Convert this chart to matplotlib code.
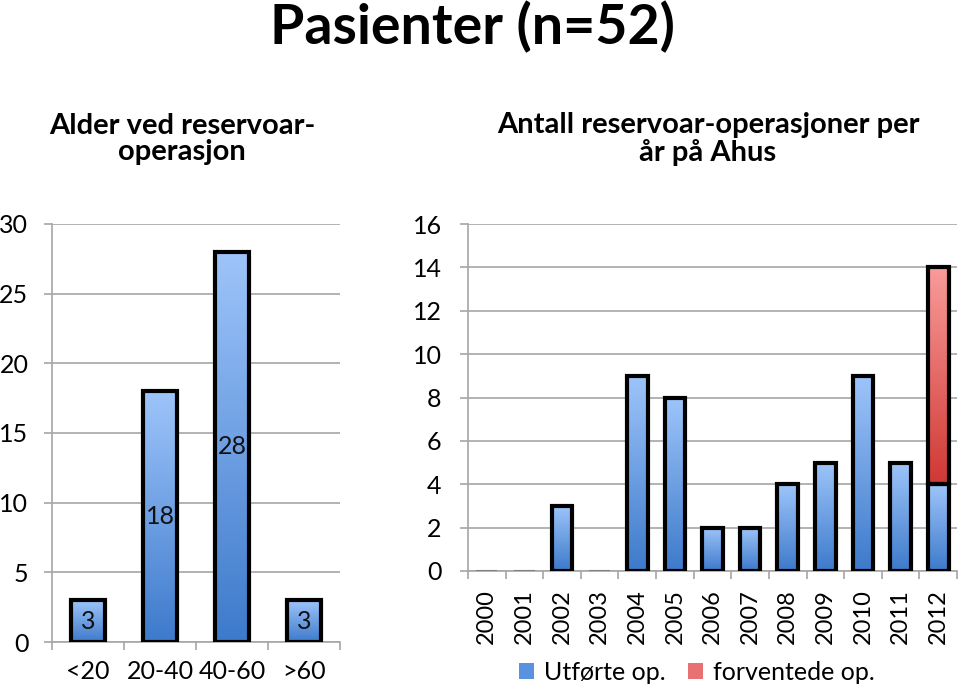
import numpy as np
import matplotlib
matplotlib.use("Agg")
import matplotlib.pyplot as plt
from matplotlib.colors import LinearSegmentedColormap
from matplotlib.patches import Patch

plt.rcParams['font.family'] = ['Lato', 'DejaVu Sans']

# ---- data ----
age_groups = ["<20", "20-40", "40-60", ">60"]
age_counts = [3, 18, 28, 3]

years = ["2000", "2001", "2002", "2003", "2004", "2005", "2006",
         "2007", "2008", "2009", "2010", "2011", "2012"]
done_ops = [0, 0, 3, 0, 9, 8, 2, 2, 4, 5, 9, 5, 4]
expected_ops = [0, 0, 0, 0, 0, 0, 0, 0, 0, 0, 0, 0, 10]

title = "Pasienter (n=52)"
sub_left = "Alder ved reservoar-\noperasjon"
sub_right = "Antall reservoar-operasjoner per\når på Ahus"

BLUE_TOP, BLUE_BOT = "#9EC5FA", "#3D7ACB"
RED_TOP, RED_BOT = "#F99C9A", "#D03834"
GRID = "#A6A6A6"
FS = 18

fig = plt.figure(figsize=(9.6, 6.86), dpi=100)
axL = fig.add_axes([52/960, 44/686, 288/960, 418/686])
axR = fig.add_axes([468/960, 115/686, 489/960, 347/686])


def grad_fill(ax, bars, ctop, cbot):
    cmap = LinearSegmentedColormap.from_list("g", [cbot, ctop])
    xl, yl = ax.get_xlim(), ax.get_ylim()
    for r in bars:
        x, y = r.get_x(), r.get_y()
        w, h = r.get_width(), r.get_height()
        if h <= 0:
            continue
        img = np.linspace(0, 1, 256).reshape(-1, 1)
        im = ax.imshow(img, extent=[x, x + w, y, y + h], origin="lower",
                       cmap=cmap, aspect="auto", zorder=r.get_zorder() - 0.1,
                       interpolation="bilinear")
        im.set_clip_path(r)
        r.set_facecolor("none")
    ax.set_xlim(xl)
    ax.set_ylim(yl)


def style_axis(ax, n, ymax, ystep):
    ax.set_xlim(-0.5, n - 0.5)
    ax.set_ylim(0, ymax)
    ax.set_yticks(np.arange(0, ymax + 0.1, ystep))
    ax.yaxis.grid(True, color=GRID, lw=1.2)
    ax.set_axisbelow(True)
    for s in ["top", "right"]:
        ax.spines[s].set_visible(False)
    for s in ["left", "bottom"]:
        ax.spines[s].set_color(GRID)
        ax.spines[s].set_linewidth(1.2)
    ax.set_xticks(np.arange(n))
    ax.set_xticks(np.arange(-0.5, n, 1.0), minor=True)
    ax.tick_params(axis="x", which="major", length=0, labelsize=FS)
    ax.tick_params(axis="x", which="minor", length=6, color=GRID, width=1.2)
    ax.tick_params(axis="y", length=6, color=GRID, width=1.2, labelsize=FS)


# ---- left chart ----
style_axis(axL, len(age_groups), 30, 5)
xl = np.arange(len(age_groups))
barsL = axL.bar(xl, age_counts, width=0.48, edgecolor="black", linewidth=3,
                zorder=3)
grad_fill(axL, barsL, BLUE_TOP, BLUE_BOT)
axL.set_xticklabels(age_groups)
axL.tick_params(axis="x", which="major", pad=13)
axL.tick_params(axis="y", pad=11)
for x, v in zip(xl, age_counts):
    axL.text(x, v / 2, str(v), ha="center", va="center", fontsize=FS,
             color="#111111", zorder=5)

# ---- right chart ----
style_axis(axR, len(years), 16, 2)
xr = np.arange(len(years))
barsB = axR.bar(xr, done_ops, width=0.55,
                edgecolor=["#808080" if v == 0 else "black" for v in done_ops],
                linewidth=[1.5 if v == 0 else 3 for v in done_ops], zorder=3)
grad_fill(axR, barsB, BLUE_TOP, BLUE_BOT)
barsRd = axR.bar(xr, expected_ops, width=0.55, bottom=done_ops,
                 edgecolor="black", linewidth=3, zorder=3)
for r, v in zip(barsRd, expected_ops):
    if v == 0:
        r.set_visible(False)
grad_fill(axR, [r for r, v in zip(barsRd, expected_ops) if v > 0], RED_TOP, RED_BOT)
axR.set_xticklabels(years, rotation=90)
axR.tick_params(axis="x", which="major", pad=13, labelsize=17)
axR.tick_params(axis="y", pad=13)

# ---- titles ----
fig.text(472/960, 1 - 27/686, title, ha="center", va="center",
         fontsize=40, fontweight="bold")
fig.text(182/960, 1 - 139/686, sub_left, ha="center", va="center",
         fontsize=21, fontweight="bold", linespacing=1.0)
fig.text(708/960, 1 - 139/686, sub_right, ha="center", va="center",
         fontsize=21, fontweight="bold", linespacing=1.0)

# ---- legend ----
handles = [Patch(facecolor="#5B92DF", edgecolor="none", label="Utførte op."),
           Patch(facecolor="#E87271", edgecolor="none", label="forventede op.")]
fig.legend(handles=handles, loc="center", bbox_to_anchor=(697/960, 1 - 672/686),
           ncol=2, frameon=False, fontsize=FS, handlelength=0.6,
           handleheight=0.6, handletextpad=0.4, columnspacing=0.9)

fig.savefig("out.png", dpi=100)
